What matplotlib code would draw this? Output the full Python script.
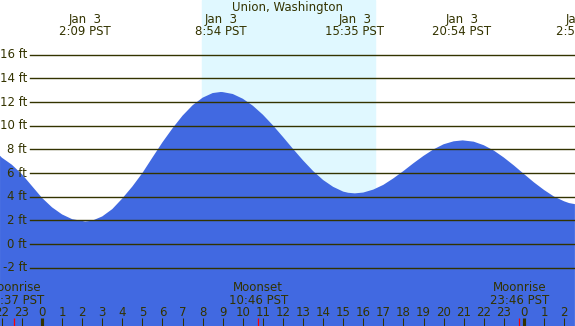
import numpy as np
import matplotlib
matplotlib.use('Agg')
import matplotlib.pyplot as plt
import matplotlib.transforms as mtransforms

# Tide height (ft), hour 0 = Jan 3 00:00 PST.
hours = [-2.09, -2, -1.5, -1, -0.5, 0, 0.5, 1, 1.5, 2, 2.15, 2.5, 3, 3.5, 4, 4.5, 5, 5.5,
         6, 6.5, 7, 7.5, 8, 8.5, 8.9, 9, 9.5, 10, 10.5, 11, 11.5, 12, 12.5, 13, 13.5, 14,
         14.5, 15, 15.25, 15.58, 16, 16.5, 17, 17.5, 18, 18.5, 19, 19.5, 20, 20.5, 20.95,
         21, 21.5, 22, 22.5, 23, 23.5, 24, 24.5, 25, 25.5, 26, 26.25, 26.54]
tide = [7.46, 7.3, 6.7, 5.9, 4.9, 3.9, 3.1, 2.5, 2.1, 1.95, 1.9, 1.97, 2.33, 2.95, 3.85,
        4.86, 6.0, 7.31, 8.6, 9.78, 10.85, 11.73, 12.37, 12.76, 12.85, 12.84, 12.68, 12.28,
        11.69, 10.93, 10.03, 9.05, 8.04, 7.07, 6.17, 5.41, 4.83, 4.43, 4.33, 4.28, 4.35,
        4.6, 5.0, 5.55, 6.17, 6.83, 7.45, 8.0, 8.43, 8.68, 8.76, 8.75, 8.65, 8.35, 7.9,
        7.31, 6.64, 5.92, 5.21, 4.57, 4.01, 3.61, 3.46, 3.37]

extreme_hours = [2.15, 8.9, 15.58, 20.9, 26.9]
extreme_labels = ["2:09 PST", "8:54 PST", "15:35 PST", "20:54 PST", "2:54 PST"]
extreme_days = ["Jan  3", "Jan  3", "Jan  3", "Jan  3", "Jan  4"]

moon_hours = [-1.38, 10.77, 23.77]
moon_events = ["Moonrise", "Moonset", "Moonrise"]
moon_labels = ["22:37 PST", "10:46 PST", "23:46 PST"]

sunrise, sunset = 7.97, 16.58
feet = list(range(-2, 17, 2))
tick_hours = list(range(-2, 27))

W, H = 575, 326
night = '#b0c4de'
day = '#e0f8ff'
water = '#4169e1'
ink = '#333300'

fig = plt.figure(figsize=(W / 100, H / 100), dpi=100)
ax = fig.add_axes([0, 0, 1, 1])
ax.set_facecolor(night)

# pixel -> data scale
x0, xs = 42, 20.08      # x px of hour 0, px per hour
y0, ys = 244, 11.83     # y px of 0 ft, px per ft
ax.set_xlim(-x0 / xs, (W - x0) / xs)
ax.set_ylim((y0 - H) / ys, y0 / ys)
ax.axis('off')

def py(p):
    # pixel row from top -> axes fraction
    return 1 - p / H

bl = mtransforms.blended_transform_factory(ax.transData, ax.transAxes)

ax.axvspan(sunrise, sunset, color=day, zorder=0)
ax.fill_between(hours, tide, -20, color=water, lw=0, zorder=1)

for f in feet:
    ax.axhline(f, xmin=30 / W, xmax=1, color=ink, lw=1, zorder=2)
    ax.text(27 / W, f, f"{f} ft", transform=mtransforms.blended_transform_factory(ax.transAxes, ax.transData),
            ha='right', va='center', fontsize=8.5, color=ink)

ax.text(0.5, py(7.5), "Union, Washington", transform=ax.transAxes,
        ha='center', va='center', fontsize=8.5, color=ink)
for h, d, lab in zip(extreme_hours, extreme_days, extreme_labels):
    ax.text(h, py(19.5), d, transform=bl, ha='center', va='center', fontsize=8.5, color=ink)
    ax.text(h, py(31.5), lab, transform=bl, ha='center', va='center', fontsize=8.5, color=ink)

for h, ev, lab in zip(moon_hours, moon_events, moon_labels):
    ax.text(h, py(287.5), ev, transform=bl, ha='center', va='center', fontsize=8.5, color=ink)
    ax.text(h, py(300), lab, transform=bl, ha='center', va='center', fontsize=8.5, color=ink)

for h in tick_hours:
    ax.text(h, py(312), str(h % 24), transform=bl, ha='center', va='center', fontsize=8.5, color=ink)
    lw = 3 if h % 24 == 0 else 1
    ax.plot([h, h], [py(326), py(318)], transform=bl, color=ink, lw=lw * 0.75, solid_capstyle='butt')
for h in moon_hours:
    ax.plot([h, h], [py(326), py(318)], transform=bl, color='red', lw=0.9, solid_capstyle='butt')

fig.savefig('out.png', dpi=100)
